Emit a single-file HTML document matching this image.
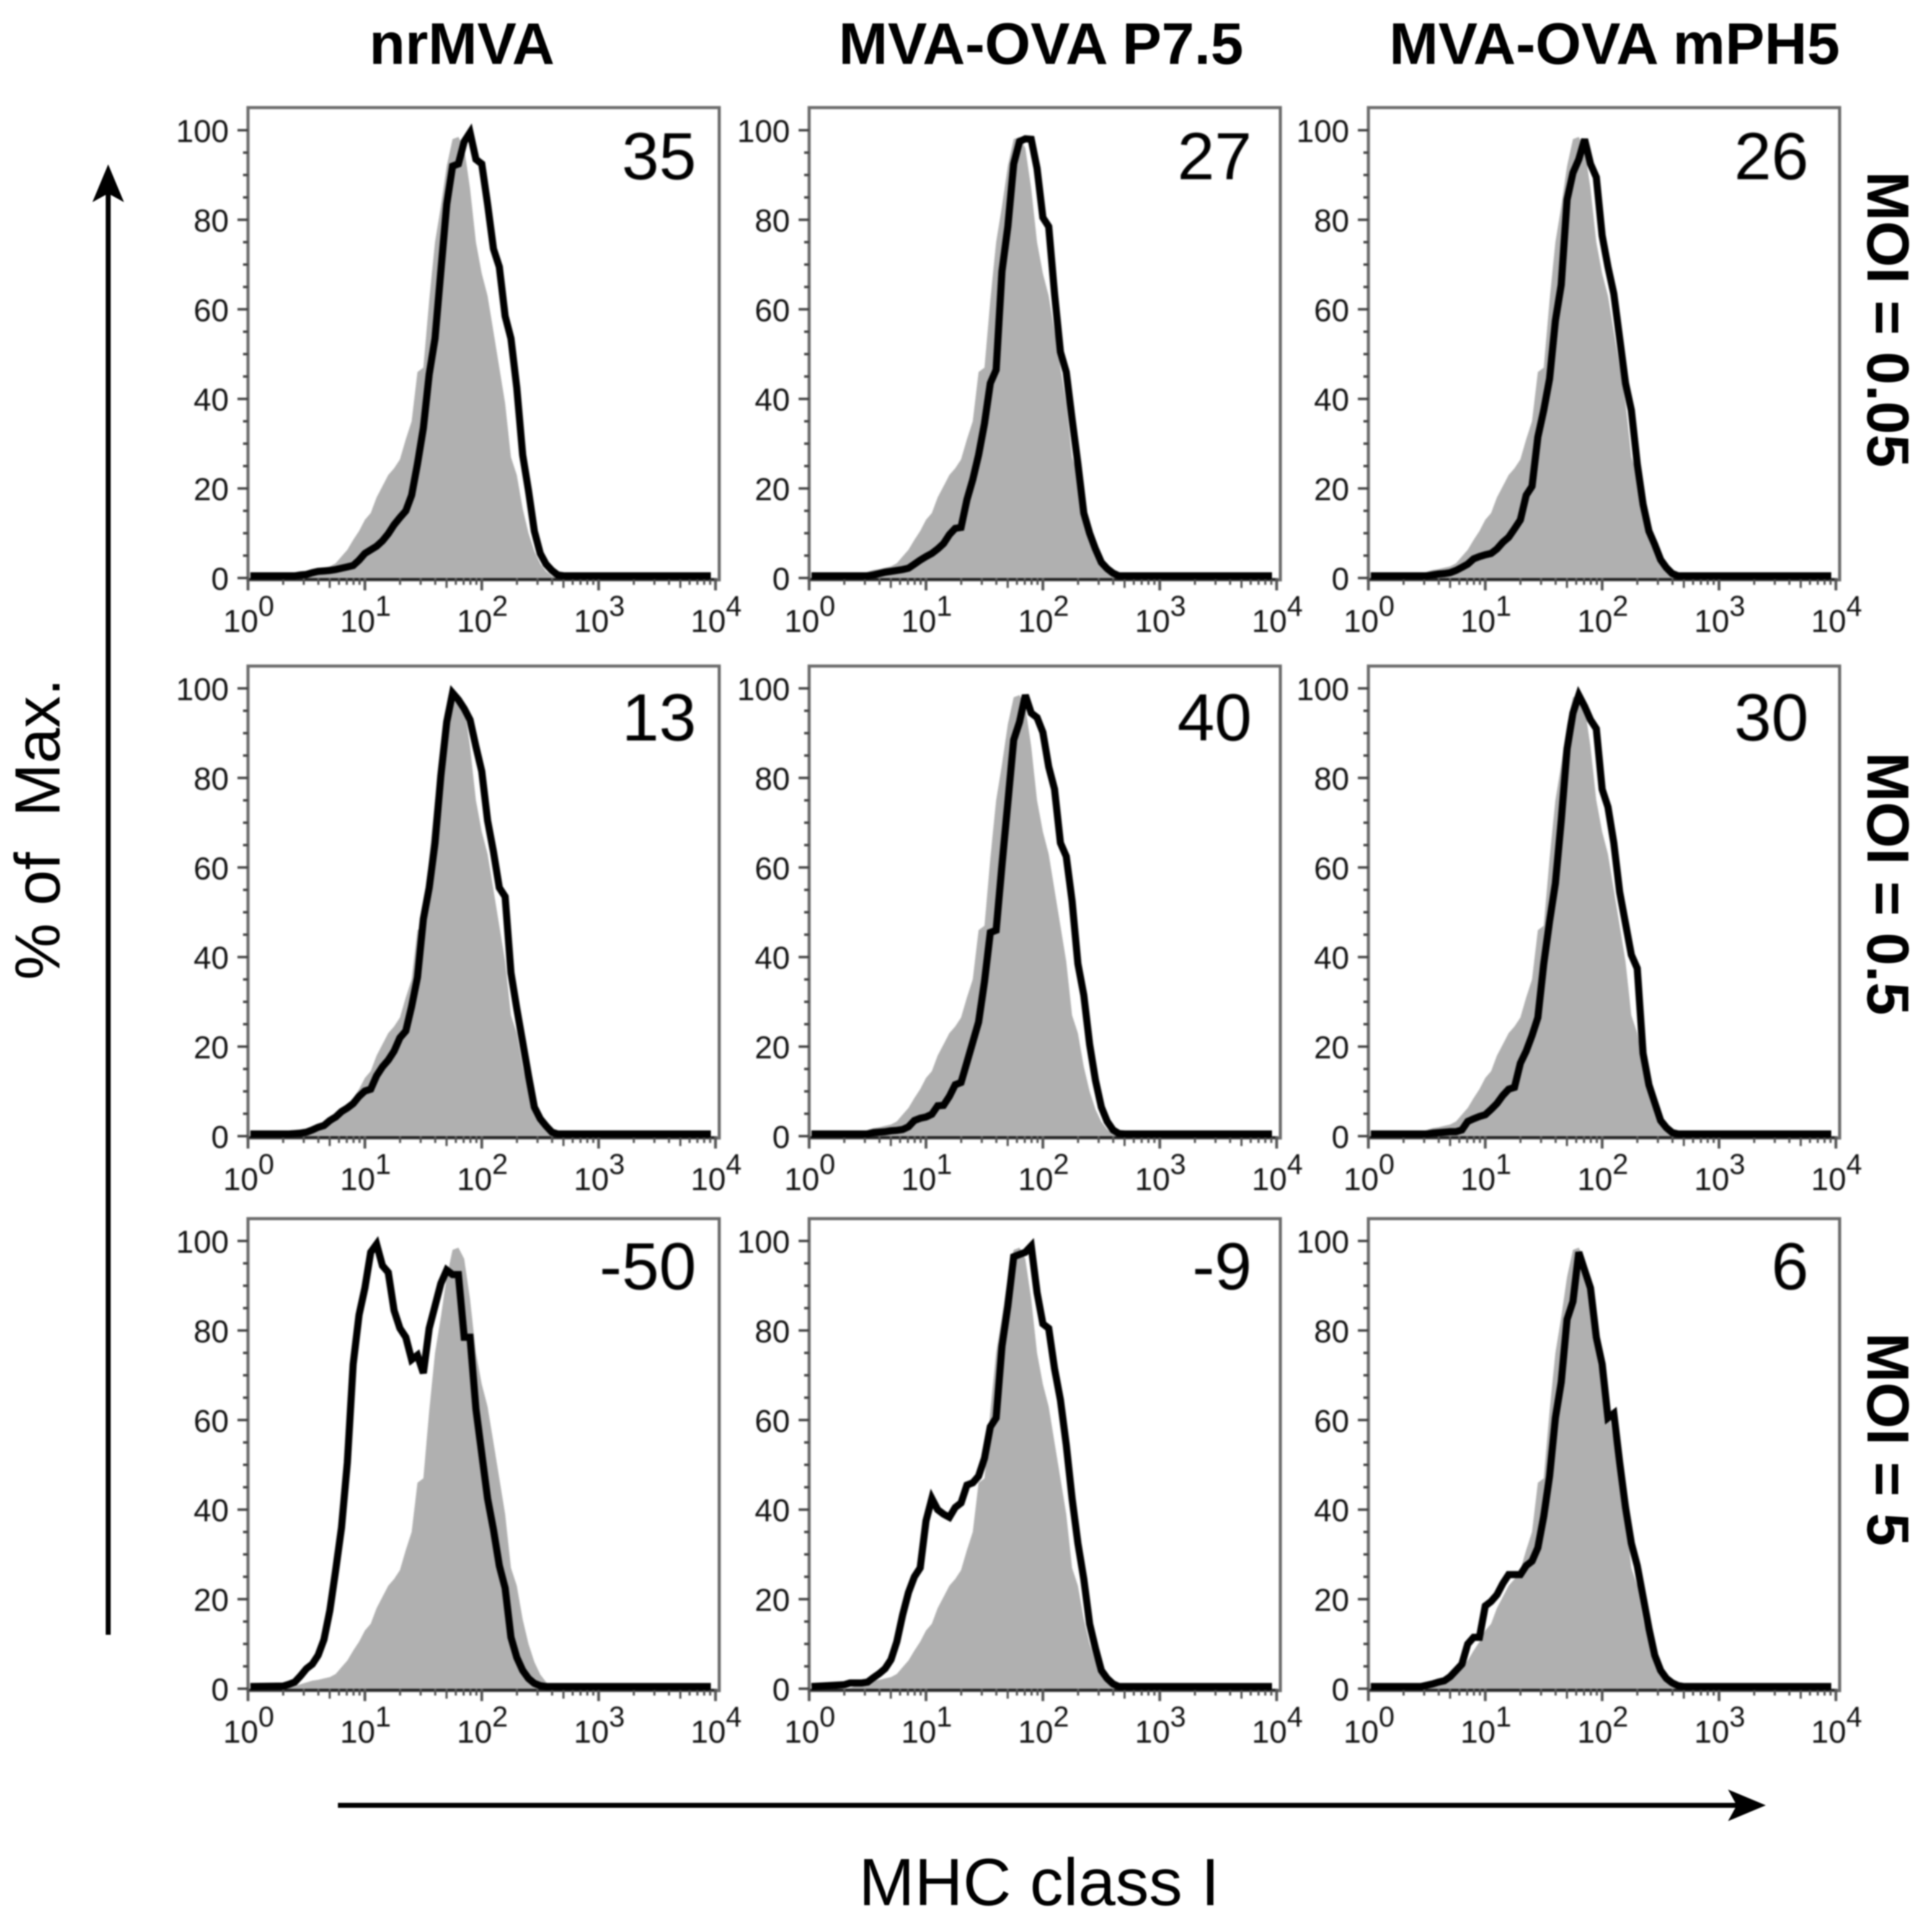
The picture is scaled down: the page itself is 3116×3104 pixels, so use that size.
<!DOCTYPE html>
<html lang="en">
<head>
<meta charset="utf-8">
<title>MHC class I histograms</title>
<style>
html,body{margin:0;padding:0;background:#fff;}
body{width:3116px;height:3104px;overflow:hidden;}
svg{display:block;font-family:"Liberation Sans",Helvetica,Arial,sans-serif;}
</style>
</head>
<body>
<svg id="chart" xmlns="http://www.w3.org/2000/svg" width="3116" height="3104" viewBox="0 0 3116 3104">
  <rect x="0" y="0" width="3116" height="3104" fill="#fff"/>
  <g id="panels" style="filter:blur(1.3px)"></g>
  <g font-weight="700" font-size="95" fill="#000" text-anchor="middle" style="filter:blur(1px)">
    <text x="745" y="103">nrMVA</text>
    <text x="1679" y="103">MVA-OVA P7.5</text>
    <text x="2604" y="103">MVA-OVA mPH5</text>
  </g>
  <g font-weight="700" font-size="96" fill="#000" text-anchor="middle" style="filter:blur(1px)">
    <text transform="translate(3012,515) rotate(90)">MOI = 0.05</text>
    <text transform="translate(3012,1425) rotate(90)">MOI = 0.5</text>
    <text transform="translate(3012,2321) rotate(90)">MOI = 5</text>
  </g>
  <g fill="#000" style="filter:blur(1px)">
    <text font-size="103" text-anchor="middle" xml:space="preserve" transform="translate(96,1337) rotate(-90)">% of  Max.</text>
    <text font-size="108" text-anchor="middle" x="1676" y="3072">MHC class I</text>
  </g>
  <g fill="#000" stroke="none" style="filter:blur(1px)">
    <rect x="170.500" y="310" width="8" height="2326"/>
    <path d="M174.500 265 L200 326 L174.500 312 L149 326 Z"/>
    <rect x="545" y="2907" width="2260" height="8"/>
    <path d="M2848 2911 L2787 2885.500 L2801 2911 L2787 2936.500 Z"/>
  </g>
</svg>
<script>
const xBins = [0.30,0.35,0.40,0.45,0.50,0.55,0.60,0.65,0.70,0.75,
  0.80,0.85,0.90,0.95,1.00,1.05,1.10,1.15,1.20,1.25,
  1.30,1.35,1.40,1.45,1.50,1.55,1.60,1.65,1.70,1.75,
  1.80,1.85,1.90,1.95,2.00,2.05,2.10,2.15,2.20,2.25,
  2.30,2.35,2.40,2.45,2.50,2.55,2.60,2.65,2.70,2.75,2.80];

const controlGrey = [0,.2,.6,1,1.4,1.8,2,2.3,2.6,3.3,
  4.8,6.3,8.5,10.5,13,14.5,18,20.5,23,24.5,
  26.5,31,35,46,47,62,75,83,92,98,
  98.5,96,87,75,68,63,55,47,39,27,
  23,15.5,10,6,3.2,1.5,.5,0,0,0,0];

const blackNrMvaLow = [0,0,0,.2,.3,.7,1,1.1,1.2,1.4,
  1.7,2,2.3,3.5,5,5.8,6.6,7.8,9.4,11.4,
  13,14.5,18,25,33,45,53,68,83,91.5,
  92,97,99,93,92,83,73,69,58,53,
  42,27,19,10,5,2.6,1.2,.2,0,0,0];

const blackP75Low = [0,0,0,0,0,.2,.5,.8,1,1.2,
  1.4,1.7,2.6,3.5,4.3,5,6,7.2,9.2,10.6,
  10.8,17,21.5,27,34,43,46,68,78,92,
  97,97.6,97.5,91,80,78,63,50,45.5,35,
  25,14,9.5,6,3,1.6,.6,0,0,0,0];

const blackMph5Low = [0,0,0,0,0,.2,.4,.5,.7,1.2,
  1.9,2.6,3.8,4.3,4.7,5,6,7.5,8.6,10.5,
  12.5,18,20,31,37,44,57,65,84,90,
  93,97.5,92,89,76,69,63,53,43,37,
  25,16,10,7,3.6,1.8,.5,0,0,0,0];

const blackNrMvaMid = [0,0,.1,.2,.4,.9,1.5,1.9,3,3.8,
  5,5.8,6.8,8.4,9.6,10,13,15,16.5,18.5,
  21.5,23,28.5,35,48,55,65,80,92,98.5,
  97,95,92.5,86.5,81,70,63,55,53,36,
  28,20.5,13,6,3.4,1.8,.4,0,0,0,0];

const blackP75Mid = [0,0,0,0,0,.3,.4,.5,.7,.8,
  1,1.6,3,3.5,3.8,4.4,6.3,6.4,8.4,11,
  11.5,16,20.5,25,34,45,45.5,60,74,88,
  92,98,94,93,89.7,82,77,65,62,52,
  38,31,20,12,6,2.8,.9,.1,0,0,0];

const blackMph5Mid = [0,0,0,0,0,.2,.3,.4,.5,.5,
  .9,2.8,3.4,3.9,4.3,5.5,6.8,8.6,10,10.4,
  15.8,18.5,22,26,38,47.5,56,70,86,94,
  98,95.5,92.5,90.5,77,73,65,54,47,40,
  37,18,11,7,3,1.4,.3,0,0,0,0];

const blackNrMvaHigh = [.1,.5,1,2.4,4,5,7,10.5,17,26,
  35.5,50,72,83,89,97,98.8,94,92.5,84,
  80,78,73,74,70,80,85,90,93,92,
  92,78,78,62,52,42,35,27,22,11,
  6.5,3.6,1.8,.7,.2,0,0,0,0,0,0];

const blackP75High = [.4,.8,.8,.8,1,2,2.9,4,6,10,
  16,21,24.5,26.5,37,42,39.5,38.5,37.8,40,
  41,45,45.5,47,51,58,60,76,85,96,
  96.5,97,98.4,88,81,80,71,64,54,42,
  32,24,14,8.5,3.6,1.8,.6,0,0,0,0];

const blackMph5High = [0,0,0,0,.3,.6,1,1.3,2.2,3.6,
  5,9.5,11,11,18,19,20.5,23,25,25,
  25,27,28,31,38,47,60,68,82,86,
  97,93,89,78,72,60,61,50,40,32,
  27,20,13,7,3.6,1.8,.8,.2,0,0,0];

const blackSeries = [blackNrMvaLow, blackP75Low, blackMph5Low,
  blackNrMvaMid, blackP75Mid, blackMph5Mid,
  blackNrMvaHigh, blackP75High, blackMph5High];

const percentLabels = ['35','27','26','13','40','30','-50','-9','6'];
const panelNames = ['nrmva-moi-005','p75-moi-005','mph5-moi-005','nrmva-moi-05','p75-moi-05','mph5-moi-05','nrmva-moi-5','p75-moi-5','mph5-moi-5'];
const yTickValues = [0,20,40,60,80,100];
const yMinorValues = [5,10,15,25,30,35,45,50,55,65,70,75,85,90,95];
const xTickExponents = [0,1,2,3,4];
const xMinorFactors = [2,3,4,5,6,7,8,9];

const NS = 'http://www.w3.org/2000/svg';
const root = document.getElementById('panels');
const colX = [400,1305,2207];
const rowZero = [932,1832,2723];
const rowTop = [173.5,1074,1965];
const labelInset = [37,46,50];
const labelBase = [289,1194,2079];
const plotW = 754, frameW = 760, plotH = 722;

function node(tag, parent, attrs) {
  const el = document.createElementNS(NS, tag);
  for (const k in attrs) el.setAttribute(k, attrs[k]);
  parent.appendChild(el);
  return el;
}

panelNames.forEach(function (name, i) {
  const col = i % 3, row = Math.floor(i / 3);
  const x0 = colX[col], y0 = rowZero[row], top = rowTop[row];
  const xs = function (dec) { return x0 + dec / 4 * plotW; };
  const ys = function (v) { return y0 - v / 100 * plotH; };

  const g = node('g', root, {});
  
  

  // grey control histogram
  let d = 'M' + xs(0) + ' ' + ys(0);
  xBins.forEach(function (b, k) { d += ' L' + xs(b).toFixed(1) + ' ' + ys(controlGrey[k]).toFixed(1); });
  d += ' L' + xs(3.95) + ' ' + ys(0) + ' Z';
  const area = node('path', g, { d: d, fill: '#b0b0b0', stroke: 'none' });
  
  

  // frame
  const frame = node('rect', g, { x: x0, y: top, width: frameW, height: y0 + 3 - top, fill: 'none', stroke: '#6c6c6c', 'stroke-width': 5 });
  
  

  // y ticks
  yTickValues.forEach(function (v) {
    const t = node('line', g, { x1: x0 - 17, x2: x0, y1: ys(v), y2: ys(v), stroke: '#444', 'stroke-width': 4 });
    
    
    const l = node('text', g, { x: x0 - 31, y: ys(v) + 19, 'font-size': 51, 'text-anchor': 'end', fill: '#111' });
    
    
    l.textContent = String(v);
  });
  yMinorValues.forEach(function (v) {
    const t = node('line', g, { x1: x0 - 8, x2: x0, y1: ys(v), y2: ys(v), stroke: '#444', 'stroke-width': 4 });
    
    
  });

  // x axis ticks
  const axis = node('line', g, { x1: x0, x2: x0 + plotW, y1: y0 + 2, y2: y0 + 2, stroke: '#222', 'stroke-width': 4 });
  
  
  xTickExponents.forEach(function (e) {
    const t = node('line', g, { x1: xs(e), x2: xs(e), y1: y0, y2: y0 + 20, stroke: '#555', 'stroke-width': 4.500 });
    
    
    const l = node('text', g, { x: xs(e) + 1, y: y0 + 87, 'font-size': 51, 'text-anchor': 'middle', fill: '#111' });
    
    
    l.appendChild(document.createTextNode('10'));
    const sup = node('tspan', l, { dy: -26, 'font-size': 46 });
    sup.textContent = String(e);
    if (e < 4) {
      xMinorFactors.forEach(function (f) {
        const mx = xs(e + Math.log10(f));
        const m = node('line', g, { x1: mx, x2: mx, y1: y0, y2: y0 + (f === 5 ? 16 : 11), stroke: '#555', 'stroke-width': 3.500 });
        
        
      });
    }
  });

  // black sample histogram
  const vals = blackSeries[i];
  let pts = xs(0.02).toFixed(1) + ',' + (ys(0) - 3.5);
  xBins.forEach(function (b, k) { pts += ' ' + xs(b).toFixed(1) + ',' + (ys(vals[k]) - 3.5).toFixed(1); });
  pts += ' ' + xs(3.96).toFixed(1) + ',' + (ys(0) - 3.5);
  const line = node('polyline', g, { points: pts, fill: 'none', stroke: '#000', 'stroke-width': 11.500, 'stroke-linejoin': 'miter', 'stroke-miterlimit': 3 });
  
  

  // percentage label
  const pct = node('text', g, { x: x0 + frameW - labelInset[col], y: labelBase[row], 'font-size': 108, 'text-anchor': 'end', fill: '#000' });
  
  
  pct.textContent = percentLabels[i];
});
</script>
</body>
</html>
